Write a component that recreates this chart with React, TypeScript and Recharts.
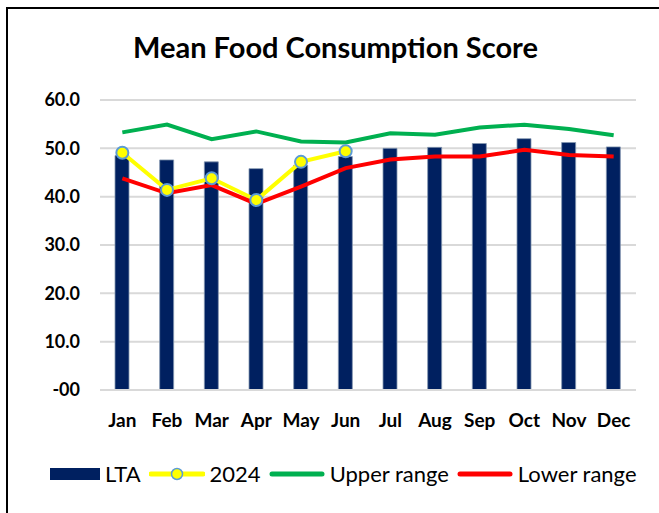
import { ComposedChart, Bar, Line, XAxis, YAxis, CartesianGrid } from "recharts";

const months = ["Jan", "Feb", "Mar", "Apr", "May", "Jun", "Jul", "Aug", "Sep", "Oct", "Nov", "Dec"];
const lta = [48.5, 47.6, 47.2, 45.8, 46.5, 48.3, 50.0, 50.2, 51.0, 52.0, 51.2, 50.3];
const y2024: (number | null)[] = [49.1, 41.4, 43.8, 39.3, 47.2, 49.4, null, null, null, null, null, null];
const upper = [53.3, 54.9, 51.9, 53.5, 51.4, 51.2, 53.1, 52.8, 54.3, 54.9, 54.0, 52.7];
const lower = [43.8, 40.7, 42.4, 38.5, 42.1, 45.9, 47.7, 48.3, 48.3, 49.7, 48.6, 48.3];
const yTicks = [0, 10, 20, 30, 40, 50, 60];

const data = months.map((m, i) => ({
  month: m,
  lta: lta[i],
  y2024: y2024[i],
  upper: upper[i],
  lower: lower[i],
}));

const font = "Lato, 'Open Sans', sans-serif";

function LegendBox() {
  const label = { fontSize: 22, color: "#000", marginLeft: 5, marginRight: 8, lineHeight: "24px" };
  return (
    <div
      style={{
        position: "absolute",
        left: 50,
        top: 462,
        display: "flex",
        alignItems: "center",
        fontFamily: font,
      }}
    >
      <svg width={50} height={14}>
        <rect x={0} y={1} width={50} height={12} fill="#002060" />
      </svg>
      <span style={label}>LTA</span>
      <svg width={56} height={16}>
        <line x1={2} y1={8} x2={54} y2={8} stroke="#ffff00" strokeWidth={5} strokeLinecap="round" />
        <circle cx={28} cy={8} r={5.5} fill="#ffff00" stroke="#5b9bd5" strokeWidth={1.5} />
      </svg>
      <span style={label}>2024</span>
      <svg width={56} height={16}>
        <line x1={3} y1={8} x2={53} y2={8} stroke="#00b050" strokeWidth={5} strokeLinecap="round" />
      </svg>
      <span style={label}>Upper range</span>
      <svg width={56} height={16}>
        <line x1={3} y1={8} x2={53} y2={8} stroke="#ff0000" strokeWidth={5} strokeLinecap="round" />
      </svg>
      <span style={label}>Lower range</span>
    </div>
  );
}

export default function App() {
  return (
    <div style={{ position: "absolute", left: 0, top: 0, width: 659, height: 513, background: "#fff", fontFamily: font }}>
      <div
        style={{
          position: "absolute",
          left: 6,
          top: 7,
          width: 653,
          height: 506,
          borderLeft: "2px solid #000",
          borderTop: "2px solid #000",
          boxSizing: "border-box",
        }}
      />
      <div
        style={{
          position: "absolute",
          left: 6,
          width: 659,
          top: 29,
          textAlign: "center",
          fontSize: 29,
          fontWeight: 700,
          color: "#000",
        }}
      >
        Mean Food Consumption Score
      </div>
      <div style={{ position: "absolute", left: 0, top: 0 }}>
        <ComposedChart width={659} height={513} data={data} margin={{ top: 100, right: 23, bottom: 93, left: 0 }}>
          <CartesianGrid vertical={false} stroke="#d9d9d9" strokeWidth={2} />
          <XAxis
            dataKey="month"
            height={30}
            axisLine={{ stroke: "#d9d9d9", strokeWidth: 2 }}
            tickLine={false}
            tick={{ fontSize: 19, fontWeight: 700, fill: "#000", fontFamily: font }}
            tickMargin={18}
            interval={0}
          />
          <YAxis
            width={100}
            domain={[0, 60]}
            ticks={yTicks}
            axisLine={false}
            tickLine={false}
            tick={{ fontSize: 18, fontWeight: 700, fill: "#000", fontFamily: font }}
            tickMargin={14}
            tickFormatter={(v: number) => (v === 0 ? "-00" : v.toFixed(1))}
          />
          <Bar dataKey="lta" name="LTA" fill="#002060" stroke="#8497b0" strokeWidth={0.8} barSize={14} isAnimationActive={false} />
          <Line
            dataKey="y2024"
            name="2024"
            stroke="#ffff00"
            strokeWidth={4}
            dot={{ r: 6, fill: "#ffff00", stroke: "#5b9bd5", strokeWidth: 2 }}
            connectNulls={false}
            isAnimationActive={false}
          />
          <Line dataKey="upper" name="Upper range" stroke="#00b050" strokeWidth={4} dot={false} isAnimationActive={false} />
          <Line dataKey="lower" name="Lower range" stroke="#ff0000" strokeWidth={4} dot={false} isAnimationActive={false} />
        </ComposedChart>
      </div>
      <LegendBox />
    </div>
  );
}
